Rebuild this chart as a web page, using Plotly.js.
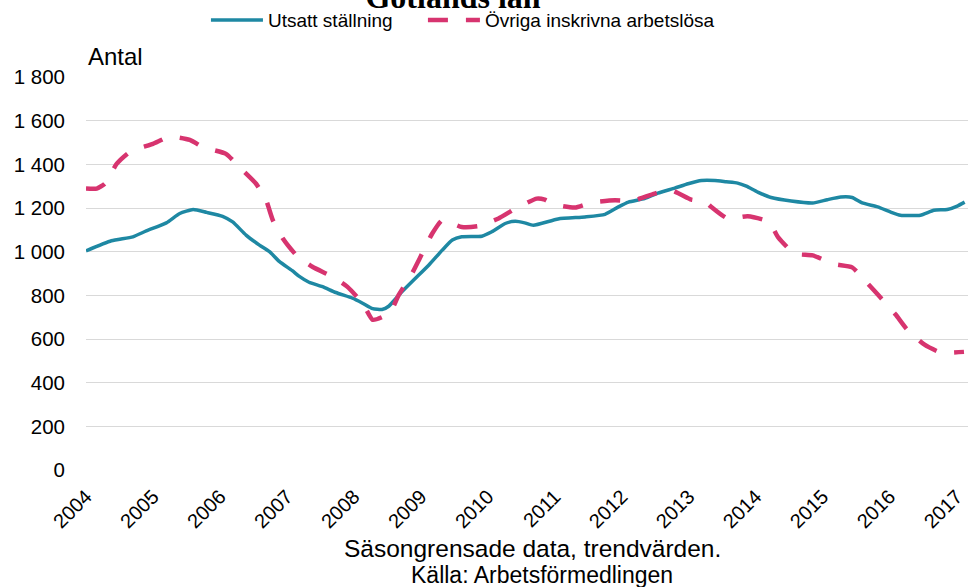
<!DOCTYPE html>
<html>
<head>
<meta charset="utf-8">
<script src="https://cdn.plot.ly/plotly-3.0.1.min.js"></script>
<style>html,body{margin:0;padding:0;background:#fff;}#chart{width:968px;height:587px;}</style>
</head>
<body>
<div id="chart"></div>
<script>
// Category axis: years
const yearTicks = [2004,2005,2006,2007,2008,2009,2010,2011,2012,2013,2014,2015,2016,2017];
const yearLabels = ["2004","2005","2006","2007","2008","2009","2010","2011","2012","2013","2014","2015","2016","2017"];

// Y tick labels
const yTickVals = [0,200,400,600,800,1000,1200,1400,1600,1800];
const yTickText = ["0","200","400","600","800","1 000","1 200","1 400","1 600","1 800"];

// Series: Utsatt ställning (time in decimal years, value)
const utsattX = [2004.00,2004.38,2004.70,2004.90,2005.20,2005.40,2005.60,2005.80,2006.04,2006.19,2006.39,2006.59,2006.74,2006.89,2007.08,2007.18,2007.33,2007.53,2007.73,2007.98,2008.13,2008.28,2008.42,2008.52,2008.72,2008.92,2009.12,2009.32,2009.47,2009.61,2009.91,2010.06,2010.26,2010.41,2010.55,2010.68,2011.05,2011.45,2011.75,2011.95,2012.10,2012.34,2012.54,2012.79,2012.99,2013.19,2013.39,2013.56,2013.73,2013.86,2014.03,2014.23,2014.53,2014.85,2015.07,2015.27,2015.44,2015.59,2015.82,2016.01,2016.16,2016.46,2016.66,2016.86,2017.01,2017.12];
const utsattY = [1004,1050,1068,1095,1132,1175,1193,1180,1162,1136,1076,1030,1000,954,913,888,860,840,813,787,764,739,735,750,817,878,939,1007,1053,1068,1071,1091,1129,1139,1132,1121,1150,1159,1171,1205,1227,1243,1268,1291,1311,1326,1326,1320,1314,1300,1273,1248,1232,1223,1238,1250,1248,1223,1205,1182,1167,1167,1190,1193,1209,1227];

// Series: Övriga inskrivna arbetslösa
const ovrigaX = [2004.00,2004.16,2004.28,2004.46,2004.65,2005.00,2005.25,2005.55,2005.75,2006.09,2006.29,2006.54,2006.69,2006.79,2006.94,2007.14,2007.38,2007.68,2007.90,2008.13,2008.28,2008.42,2008.55,2008.67,2008.87,2008.97,2009.17,2009.32,2009.61,2009.86,2010.16,2010.41,2010.73,2010.85,2010.98,2011.30,2011.55,2011.90,2012.15,2012.49,2012.74,2013.04,2013.24,2013.31,2013.58,2013.88,2014.20,2014.33,2014.58,2014.85,2015.17,2015.44,2015.67,2015.86,2016.09,2016.26,2016.51,2016.76,2017.11];
const ovrigaY = [1289,1289,1311,1403,1456,1494,1527,1512,1478,1448,1387,1311,1235,1144,1060,984,931,885,840,764,688,700,726,802,901,961,1083,1144,1113,1117,1152,1197,1243,1238,1217,1202,1225,1235,1232,1266,1281,1238,1231,1212,1152,1162,1136,1068,991,983,943,928,855,791,712,644,576,538,541];

const seriesNames = ["Utsatt ställning","Övriga inskrivna arbetslösa"];

const traces = [
  {x: utsattX, y: utsattY, name: seriesNames[0], type: 'scatter', mode: 'lines', legend: 'legend',
   line: {color: '#1E88A3', width: 3.5, shape: 'spline', smoothing: 0.5}},
  {x: ovrigaX, y: ovrigaY, name: seriesNames[1], type: 'scatter', mode: 'lines', legend: 'legend2',
   line: {color: '#D7346F', width: 4.5, dash: '20px,18px', shape: 'spline', smoothing: 0.5}}
];

const font = 'Liberation Sans, Arial, sans-serif';
const legendBase = {orientation: 'h', xanchor: 'left', y: 1.193, yanchor: 'top', itemwidth: 52,
                    font: {size: 19, color: '#000', family: font}, bgcolor: 'rgba(0,0,0,0)'};
const layout = {
  width: 968, height: 587,
  margin: {l: 86, r: 0, t: 77, b: 117},
  paper_bgcolor: '#fff', plot_bgcolor: '#fff',
  font: {family: font, size: 20, color: '#000'},
  title: {text: '<b>Gotlands län</b>', font: {family: 'Liberation Serif, Times New Roman, serif', size: 32, color: '#000'},
          x: 0.468, xref: 'container', xanchor: 'center', y: 0.9865, yref: 'container', yanchor: 'bottom'},
  showlegend: true,
  legend: Object.assign({}, legendBase, {x: 0.136}),
  legend2: Object.assign({}, legendBase, {x: 0.382}),
  xaxis: {type: 'linear', range: [2004, 2017.17], tickvals: yearTicks, ticktext: yearLabels,
          tickangle: -45, showgrid: false, zeroline: false, showline: false, ticks: '',
          ticklabelstandoff: 10, ticklabeloverflow: 'allow',
          tickfont: {size: 20, family: font, color: '#000'}},
  yaxis: {range: [0, 1800], tickvals: yTickVals, ticktext: yTickText, showgrid: true,
          gridcolor: '#d9d9d9', gridwidth: 1, zeroline: false, showline: false, ticks: '',
          ticklabelstandoff: 20, tickfont: {size: 20.5, family: font, color: '#000'}},
  annotations: [
    {text: 'Antal', xref: 'paper', yref: 'paper', x: 0, y: 1.051, xanchor: 'left', yanchor: 'middle',
     showarrow: false, font: {size: 24, family: font, color: '#000'}},
    {text: 'Säsongrensade data, trendvärden.', xref: 'paper', yref: 'paper',
     x: (532 - 86) / 882, y: (470 - 548) / 393, xanchor: 'center', yanchor: 'middle', showarrow: false,
     font: {size: 24.5, family: font, color: '#000'}},
    {text: 'Källa: Arbetsförmedlingen', xref: 'paper', yref: 'paper',
     x: (542 - 86) / 882, y: (470 - 575) / 393, xanchor: 'center', yanchor: 'middle', showarrow: false,
     font: {size: 23, family: font, color: '#000'}}
  ]
};

Plotly.newPlot('chart', traces, layout, {displayModeBar: false, staticPlot: true});
</script>
</body>
</html>
